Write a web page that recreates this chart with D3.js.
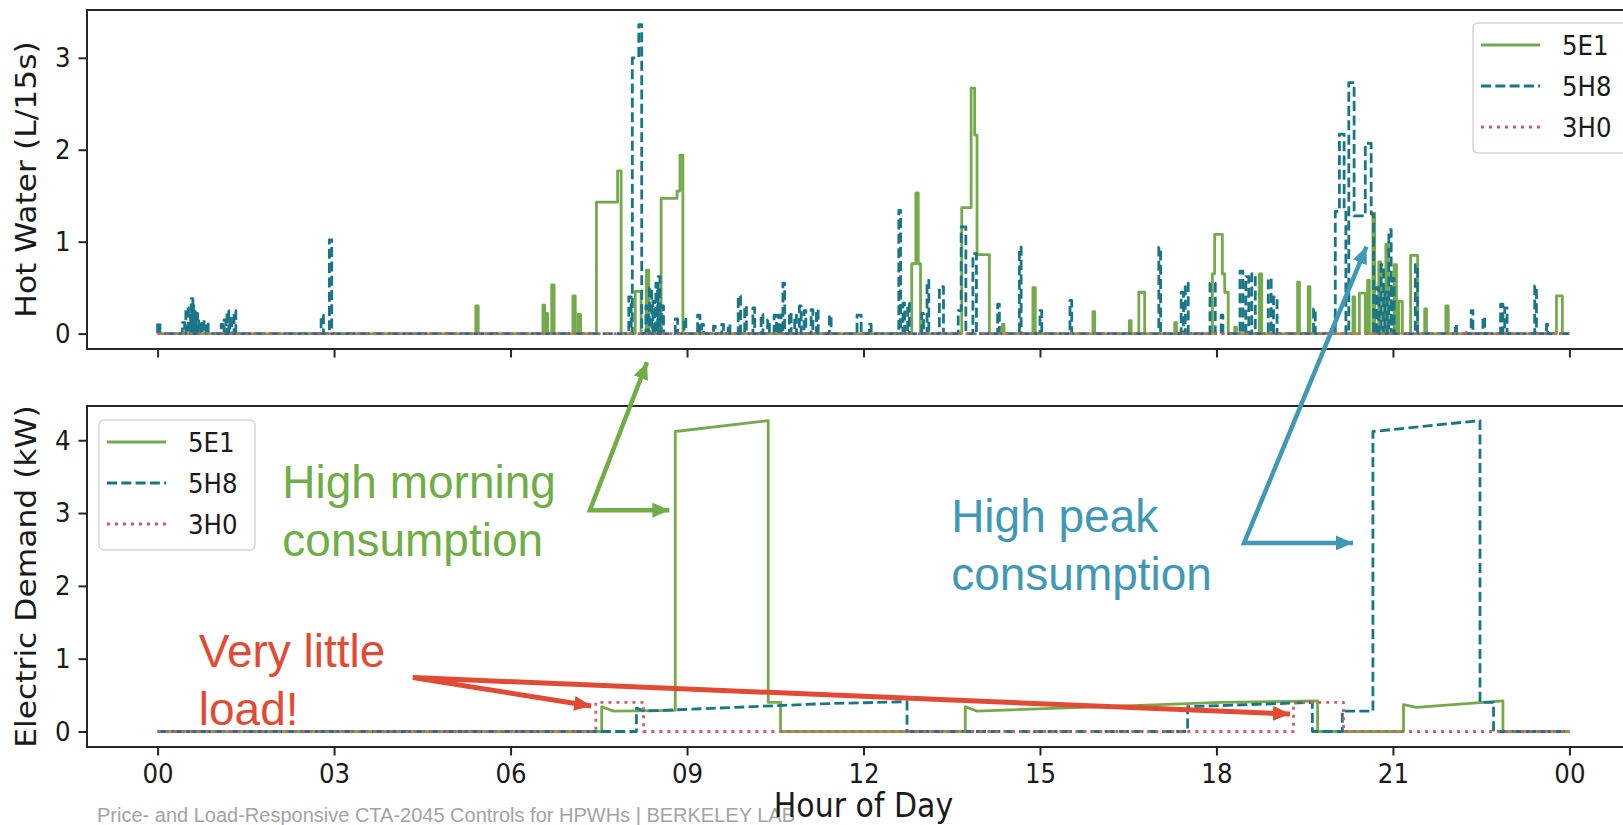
<!DOCTYPE html>
<html>
<head>
<meta charset="utf-8">
<script src="https://cdn.jsdelivr.net/npm/d3@7"></script>
<style>
  html, body { margin: 0; padding: 0; background: #fff; overflow: hidden; }
  svg { display: block; }
</style>
</head>
<body>
<svg id="chart" width="1623" height="825"></svg>
<script>
(function(d3){

    // ticks
    var hourTicks = [0, 3, 6, 9, 12, 15, 18, 21, 24];
    var hourLabels = ["00", "03", "06", "09", "12", "15", "18", "21", "00"];
    var waterTicks = [0, 1, 2, 3];
    var demandTicks = [0, 1, 2, 3, 4];
    var seriesNames = ["5E1", "5H8", "3H0"];

    // hot water draws: [start hour, end hour, L/15s]
    var water5E1 = [
        [5.41, 5.45, 0.30],
        [6.55, 6.58, 0.31], [6.60, 6.63, 0.22], [6.70, 6.74, 0.53],
        [7.06, 7.10, 0.41], [7.15, 7.19, 0.21],
        [7.46, 7.82, 1.43], [7.82, 7.88, 1.77],
        [8.12, 8.22, 0.46], [8.31, 8.35, 0.69],
        [8.56, 8.83, 1.47], [8.83, 8.88, 1.55], [8.88, 8.93, 1.94],
        [12.82, 12.89, 0.76], [12.89, 12.93, 1.53], [12.93, 12.97, 0.76],
        [13.67, 13.83, 1.37], [13.83, 13.89, 2.67], [13.89, 13.93, 2.16], [13.93, 14.14, 0.86],
        [14.36, 14.39, 0.10], [14.88, 14.92, 0.50], [15.90, 15.93, 0.24],
        [16.52, 16.55, 0.14], [16.68, 16.78, 0.45],
        [17.29, 17.32, 0.12],
        [17.93, 17.97, 0.65], [17.97, 18.10, 1.08], [18.10, 18.14, 0.65], [18.14, 18.20, 0.45],
        [18.31, 18.34, 0.07], [18.73, 18.77, 0.65], [19.38, 19.41, 0.56], [19.56, 19.59, 0.51],
        [20.32, 20.35, 0.40], [20.43, 20.53, 0.44], [20.57, 20.60, 0.58], [20.66, 20.69, 1.31],
        [20.76, 20.79, 0.78], [20.88, 20.92, 0.97], [21.02, 21.06, 0.75], [21.10, 21.16, 0.35],
        [21.30, 21.42, 0.85], [21.54, 21.57, 0.27], [21.90, 21.94, 0.30],
        [23.78, 23.88, 0.41]
    ];
    var water5H8 = [
        [0.00, 0.04, 0.12],
        [0.42, 0.46, 0.12], [0.48, 0.52, 0.28], [0.53, 0.56, 0.20], [0.57, 0.60, 0.38],
        [0.61, 0.64, 0.30], [0.65, 0.68, 0.22], [0.70, 0.73, 0.15], [0.76, 0.79, 0.15], [0.82, 0.86, 0.12],
        [1.08, 1.11, 0.10], [1.13, 1.16, 0.15], [1.18, 1.21, 0.25], [1.23, 1.26, 0.18], [1.30, 1.33, 0.25],
        [2.78, 2.82, 0.20], [2.92, 2.96, 1.02],
        [8.01, 8.05, 0.40], [8.07, 8.18, 3.00], [8.18, 8.23, 3.36],
        [8.30, 8.34, 0.30], [8.36, 8.40, 0.50], [8.42, 8.45, 0.35], [8.47, 8.50, 0.55],
        [8.51, 8.54, 0.62], [8.56, 8.60, 0.30],
        [8.80, 8.84, 0.16], [8.95, 8.98, 0.17], [9.18, 9.22, 0.20], [9.25, 9.28, 0.10],
        [9.45, 9.48, 0.08], [9.59, 9.62, 0.10], [9.70, 9.73, 0.10], [9.87, 9.91, 0.41],
        [9.98, 10.01, 0.30], [10.12, 10.15, 0.28], [10.26, 10.29, 0.21], [10.37, 10.40, 0.15],
        [10.48, 10.52, 0.20], [10.56, 10.60, 0.20], [10.63, 10.66, 0.55], [10.74, 10.77, 0.23],
        [10.83, 10.86, 0.20], [10.91, 10.94, 0.30], [10.99, 11.02, 0.25], [11.11, 11.14, 0.26],
        [11.20, 11.23, 0.26], [11.42, 11.45, 0.20], [11.89, 11.96, 0.20], [12.10, 12.13, 0.10],
        [12.60, 12.63, 1.34], [12.67, 12.70, 0.33], [12.75, 12.78, 0.33], [12.99, 13.02, 0.22],
        [13.08, 13.11, 0.58], [13.29, 13.36, 0.51],
        [13.61, 13.66, 0.25], [13.66, 13.74, 1.16], [13.86, 13.92, 0.87],
        [14.28, 14.31, 0.32], [14.65, 14.68, 0.94], [15.00, 15.03, 0.25], [15.51, 15.54, 0.36],
        [17.02, 17.05, 0.94], [17.40, 17.44, 0.45], [17.47, 17.52, 0.55], [17.89, 17.98, 0.55],
        [18.08, 18.11, 0.20], [18.40, 18.45, 0.68], [18.50, 18.55, 0.62], [18.60, 18.66, 0.65],
        [18.88, 18.93, 0.60], [18.97, 19.03, 0.40], [19.65, 19.68, 0.27],
        [20.02, 20.09, 1.33], [20.09, 20.17, 2.17], [20.17, 20.20, 1.35],
        [20.25, 20.34, 2.73], [20.34, 20.53, 1.28], [20.53, 20.63, 2.07], [20.63, 20.67, 1.30],
        [20.72, 20.76, 0.50], [20.80, 20.84, 0.75], [20.86, 20.90, 0.45], [20.93, 20.97, 1.13],
        [20.98, 21.02, 0.60], [21.38, 21.42, 0.75],
        [22.06, 22.08, 0.10], [22.33, 22.36, 0.25], [22.53, 22.56, 0.18], [22.83, 22.87, 0.32],
        [22.90, 22.94, 0.28], [23.41, 23.44, 0.52], [23.61, 23.63, 0.10]
    ];
    var water3H0 = [[22.20, 22.25, 0.03]];

    // electric demand: [hour, kW]
    var demand5E1 = [
        [0, 0], [7.55, 0], [7.55, 0.34], [7.75, 0.28], [8.80, 0.29], [8.80, 4.12], [10.38, 4.27],
        [10.38, 0.40], [10.59, 0.40], [10.59, 0], [13.73, 0], [13.73, 0.34], [13.93, 0.28],
        [16.70, 0.36], [18.07, 0.40], [19.72, 0.42], [19.72, 0], [21.18, 0], [21.18, 0.37],
        [21.40, 0.33], [22.87, 0.42], [22.87, 0], [24, 0]
    ];
    var demand5H8 = [
        [0, 0], [8.14, 0], [8.14, 0.32], [8.28, 0.28], [11.27, 0.38], [12.74, 0.41], [12.74, 0],
        [17.51, 0], [17.51, 0.34], [19.63, 0.40], [19.63, 0], [20.14, 0], [20.14, 0.28],
        [20.66, 0.28], [20.66, 4.12], [22.48, 4.27], [22.48, 0.40], [22.71, 0.40], [22.71, 0], [24, 0]
    ];
    var demand3H0 = [
        [0, 0], [7.45, 0], [7.45, 0.40], [8.26, 0.40], [8.26, 0], [19.31, 0], [19.31, 0.40],
        [20.16, 0.40], [20.16, 0], [24, 0]
    ];

    // callouts in [hour, kW] of the lower panel: start tip, corner, end tip
    var calloutMorning = [[8.32, 5.07], [7.35, 3.04], [8.70, 3.04]];
    var calloutPeak = [[20.55, 6.66], [18.47, 2.59], [20.32, 2.59]];
    var calloutLittle = [[7.37, 0.35], [4.34, 0.74], [19.25, 0.24]];
    var textMorning = ["High morning", "consumption"];
    var textPeak = ["High peak", "consumption"];
    var textLittle = ["Very little", "load!"];
    var footer = "Price- and Load-Responsive CTA-2045 Controls for HPWHs | BERKELEY LAB";

    var styles = {
        "5E1": {color: "#74a94c", dash: null},
        "5H8": {color: "#1a7586", dash: "10,4.3"},
        "3H0": {color: "#d65a5f", dash: "3,5"}
    };
    var FONT = "'DejaVu Sans', sans-serif";
    var NOTE_FONT = "'Liberation Sans', Arial, sans-serif";
    var STRETCH = 1.12; //picture is a little taller than the plot it came from

    var svg = d3.select("#chart");

    var x = d3.scaleLinear().domain([-1.2, 25.2]).range([87, 1640]);
    var yWater = d3.scaleLinear().domain([-0.1675, 3.52]).range([349, 10]);
    var yDemand = d3.scaleLinear().domain([-0.213, 4.47]).range([747, 406]);

    //turns the draw list into a step outline starting and ending at 0
    function stepPoints(events){
        var pts = [[0, 0]];
        events.forEach(function(e, i){
            var next = events[i + 1];
            pts.push([e[0], pts[pts.length - 1][1]]);
            pts.push([e[0], e[2]]);
            pts.push([e[1], e[2]]);
            if(!next || next[0] > e[1] + 1e-6) pts.push([e[1], 0]);
        });
        pts.push([24, 0]);
        return pts;
    }

    function stretched(px, py){
        return "translate(" + px + "," + py + ") scale(1," + STRETCH + ")";
    }

    function drawPanel(y, ticks, title, data, legendX, legendY, showHours){
        var top = y.range()[1], bottom = y.range()[0];
        var g = svg.append("g");

        var clipId = "clip" + Math.round(top);
        svg.append("clipPath").attr("id", clipId)
            .append("rect")
            .attr("x", x.range()[0]).attr("y", top)
            .attr("width", x.range()[1] - x.range()[0]).attr("height", bottom - top);

        var line = d3.line()
            .x(function(d){ return x(d[0]); })
            .y(function(d){ return y(d[1]); });

        seriesNames.forEach(function(name, i){
            g.append("path")
                .attr("clip-path", "url(#" + clipId + ")")
                .attr("d", line(data[i]))
                .attr("fill", "none")
                .attr("stroke", styles[name].color)
                .attr("stroke-width", 2.8)
                .attr("stroke-linejoin", "round")
                .attr("stroke-dasharray", styles[name].dash);
        });

        var yAxis = g.append("g")
            .attr("transform", "translate(" + x.range()[0] + ",0)")
            .call(d3.axisLeft(y).tickValues(ticks).tickFormat(d3.format("d")).tickSize(8.5).tickPadding(8));
        var xAxis = g.append("g")
            .attr("transform", "translate(0," + bottom + ")")
            .call(d3.axisBottom(x).tickValues(hourTicks).tickSize(8.5).tickPadding(8)
                .tickFormat(function(d, i){ return showHours ? hourLabels[i] : ""; }));

        [yAxis, xAxis].forEach(function(a){
            a.select(".domain").remove();
            a.selectAll(".tick line").attr("stroke", "#262626").attr("stroke-width", 2);
            a.selectAll(".tick text").attr("fill", "#1a1a1a")
                .style("font-family", FONT).style("font-size", "24.5px");
        });
        yAxis.selectAll(".tick text").attr("x", 0).attr("transform", stretched(-16.5, 0));
        xAxis.selectAll(".tick text").attr("y", 0).attr("transform", stretched(0, 16.5));

        g.append("rect")
            .attr("x", x.range()[0]).attr("y", top)
            .attr("width", x.range()[1] - x.range()[0]).attr("height", bottom - top)
            .attr("fill", "none").attr("stroke", "#262626").attr("stroke-width", 2);

        g.append("text")
            .attr("transform", stretched(36, (top + bottom) / 2) + " rotate(-90)")
            .attr("text-anchor", "middle")
            .style("font-family", FONT).style("font-size", "28px")
            .attr("fill", "#1a1a1a")
            .text(title);

        // legend
        var lg = g.append("g").attr("transform", "translate(" + legendX + "," + legendY + ")");
        lg.append("rect")
            .attr("width", 156).attr("height", 130).attr("rx", 5)
            .attr("fill", "#fff").attr("fill-opacity", 0.8)
            .attr("stroke", "#d6d6d6").attr("stroke-width", 1.5);
        seriesNames.forEach(function(name, i){
            var row = 22 + i * 41;
            lg.append("line")
                .attr("x1", 8).attr("x2", 67).attr("y1", row).attr("y2", row)
                .attr("stroke", styles[name].color).attr("stroke-width", 2.8)
                .attr("stroke-dasharray", styles[name].dash);
            lg.append("text")
                .attr("transform", stretched(89, row))
                .attr("dy", "0.36em")
                .style("font-family", FONT).style("font-size", "24.5px")
                .attr("fill", "#1a1a1a")
                .text(name);
        });
    }

    drawPanel(yWater, waterTicks, "Hot Water (L/15s)",
        [stepPoints(water5E1), stepPoints(water5H8), stepPoints(water3H0)], 1473, 23, false);
    drawPanel(yDemand, demandTicks, "Electric Demand (kW)",
        [demand5E1, demand5H8, demand3H0], 99, 420, true);

    svg.append("text")
        .attr("x", 97).attr("y", 822)
        .attr("textLength", 698).attr("lengthAdjust", "spacingAndGlyphs")
        .style("font-family", NOTE_FONT).style("font-size", "20px")
        .attr("fill", "#a3a3a3")
        .text(footer);

    svg.append("text")
        .attr("transform", stretched((x.range()[0] + x.range()[1]) / 2, 817))
        .attr("text-anchor", "middle")
        .style("font-family", FONT).style("font-size", "30px")
        .attr("fill", "#1a1a1a")
        .text("Hour of Day");

    // callouts
    var defs = svg.append("defs");
    function arrowHead(id, color, len, wid){
        defs.append("marker")
            .attr("id", id).attr("markerUnits", "userSpaceOnUse")
            .attr("viewBox", "0 0 " + len + " " + wid)
            .attr("refX", len).attr("refY", wid / 2)
            .attr("markerWidth", len).attr("markerHeight", wid)
            .attr("orient", "auto-start-reverse")
            .append("path")
            .attr("d", "M0,0L" + len + "," + (wid / 2) + "L0," + wid + "Z")
            .attr("fill", color);
    }

    function callout(pts, lines, color, id, tx, ty, lineWidth){
        arrowHead(id, color, 17, 15);
        svg.append("path")
            .attr("d", d3.line()
                .x(function(d){ return x(d[0]); })
                .y(function(d){ return yDemand(d[1]); })(pts))
            .attr("fill", "none")
            .attr("stroke", color).attr("stroke-width", lineWidth)
            .attr("stroke-linejoin", "miter")
            .attr("marker-start", "url(#" + id + ")")
            .attr("marker-end", "url(#" + id + ")");
        lines.forEach(function(t, i){
            svg.append("text")
                .attr("x", x(tx)).attr("y", yDemand(ty) + i * 58)
                .style("font-family", NOTE_FONT).style("font-size", "46px")
                .attr("fill", color)
                .text(t);
        });
    }

    callout(calloutMorning, textMorning, "#70ad47", "arrowGreen", 2.12, 3.20, 4.5);
    callout(calloutPeak, textPeak, "#3f98b6", "arrowBlue", 13.49, 2.74, 4.5);
    callout(calloutLittle, textLittle, "#e24a33", "arrowRed", 0.70, 0.89, 5);

})(d3);
</script>
</body>
</html>
